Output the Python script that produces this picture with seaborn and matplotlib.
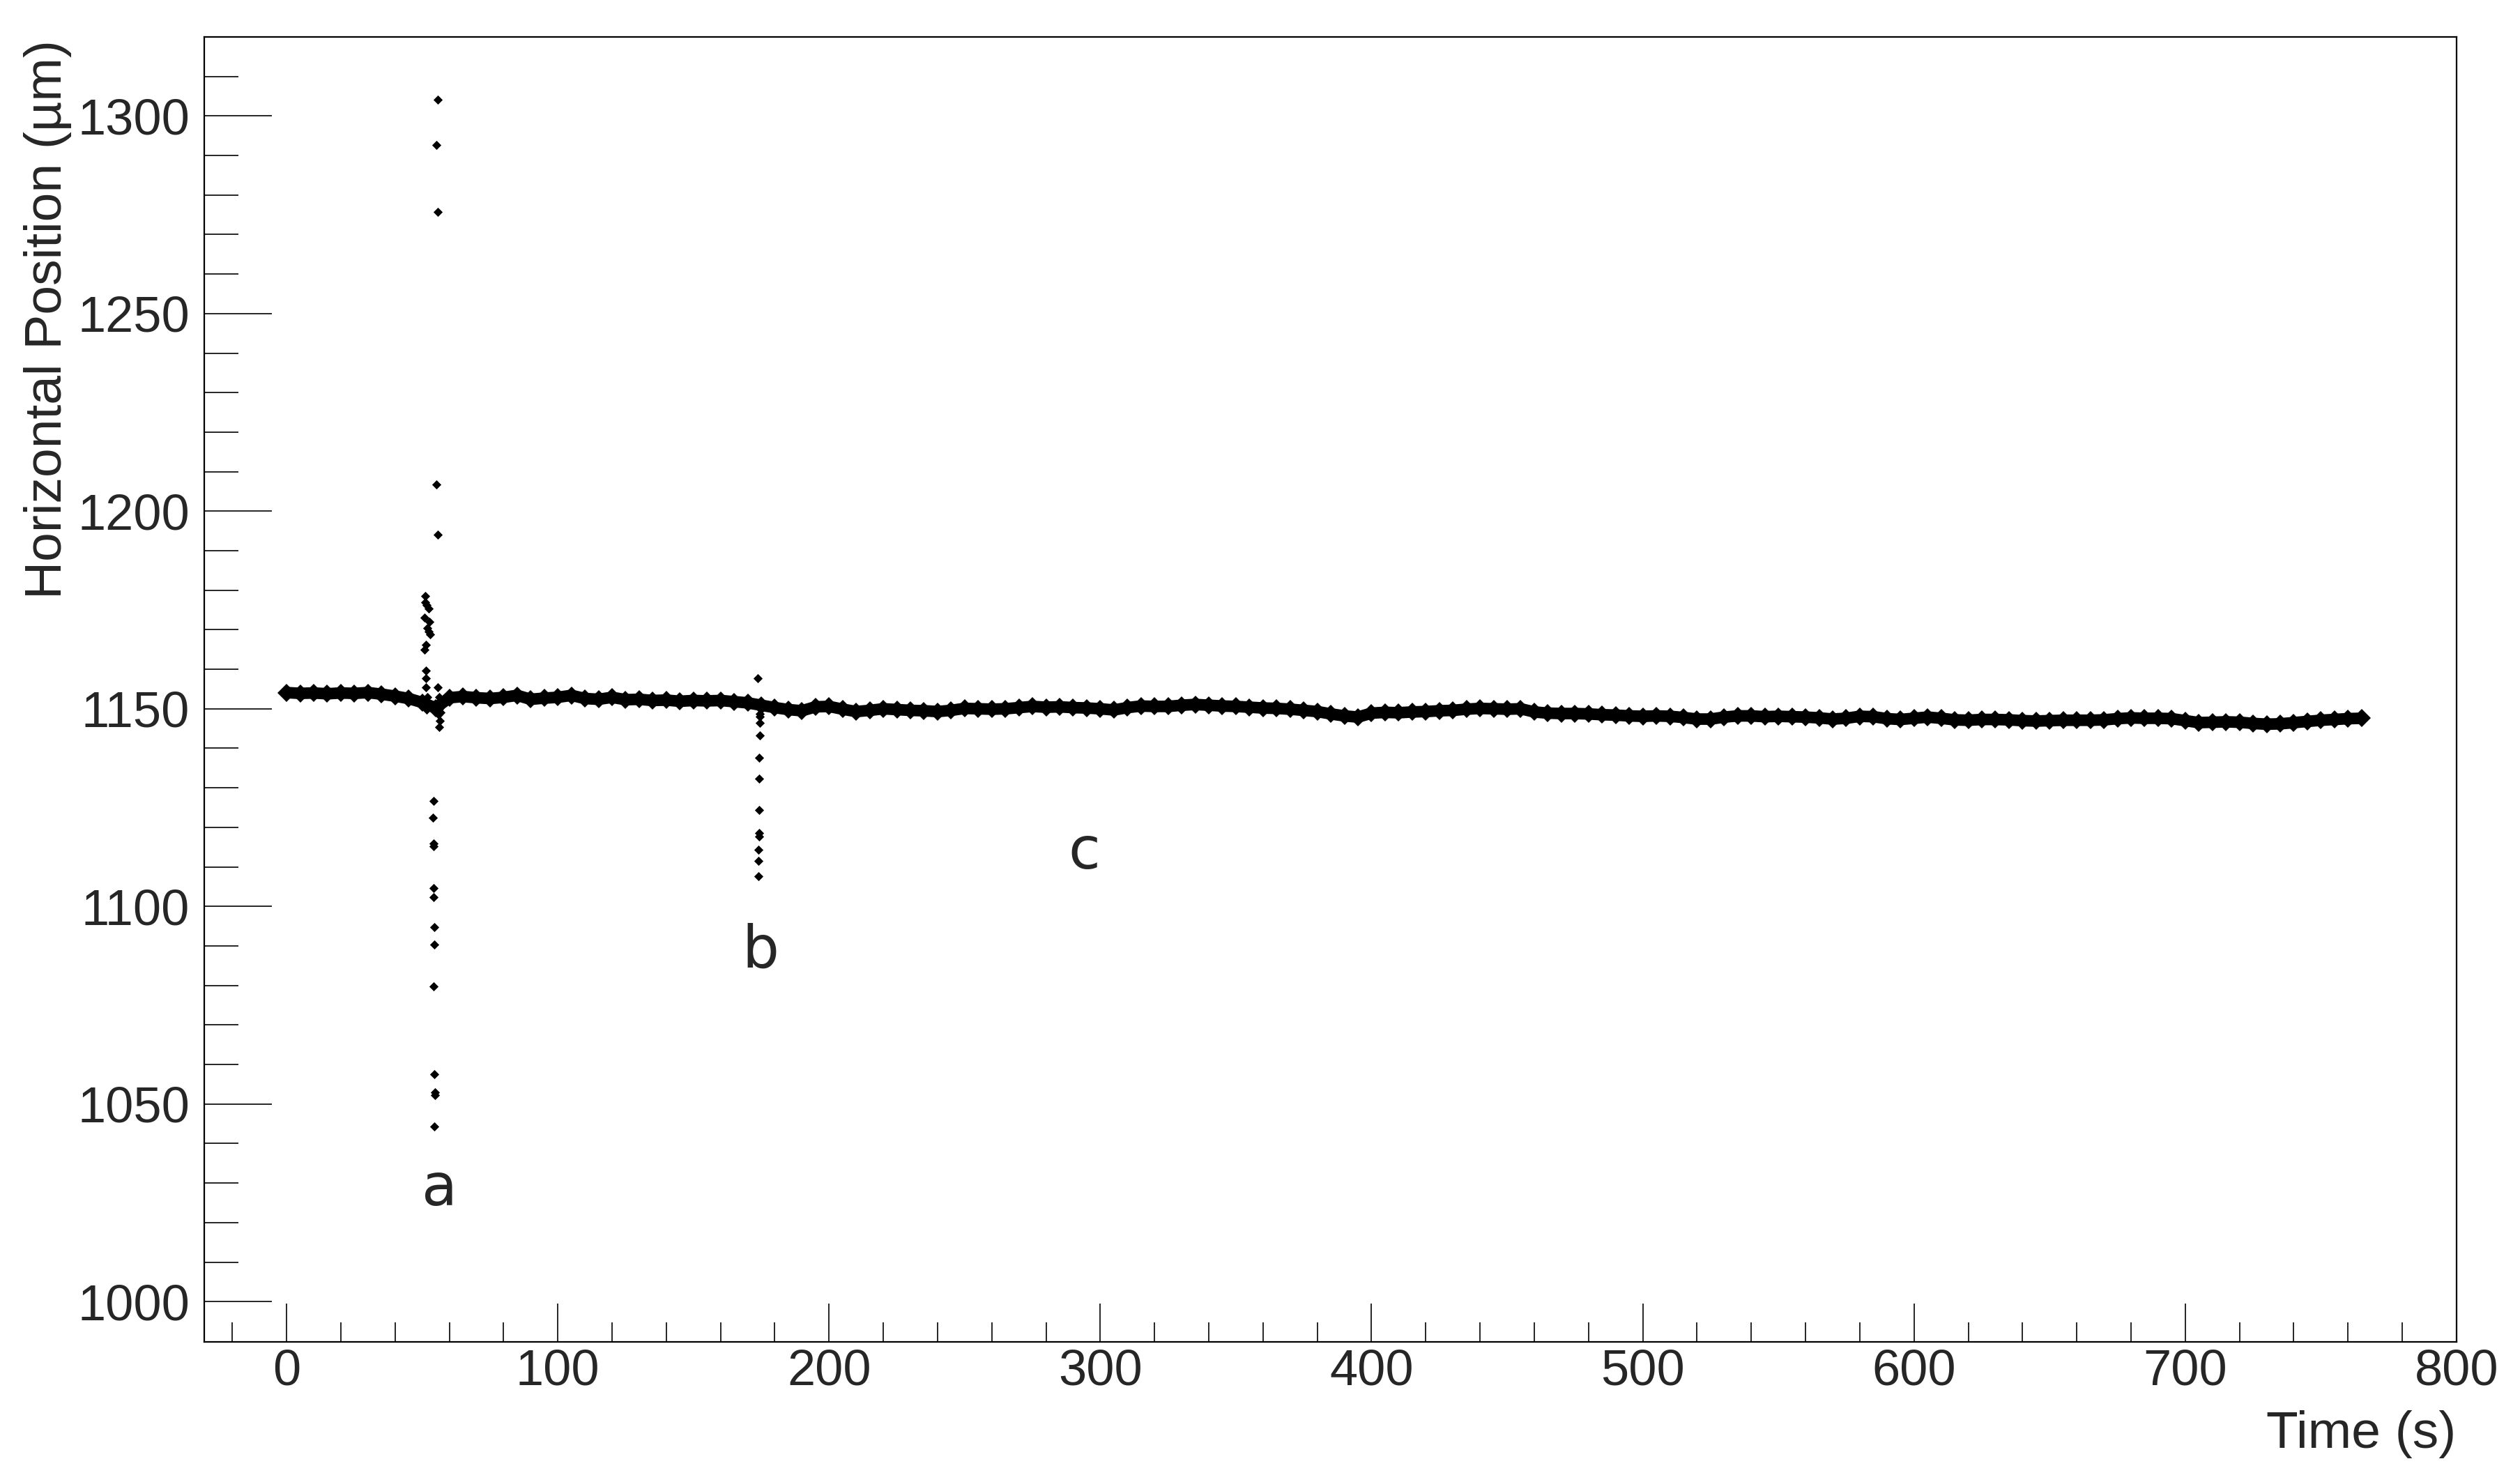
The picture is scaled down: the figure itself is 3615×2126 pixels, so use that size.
import numpy as np
import pandas as pd
import seaborn as sns
import matplotlib.pyplot as plt
from matplotlib.ticker import MultipleLocator, FixedLocator

# slow drift of the beam position, read every 5 s off the trace
trace_time = list(range(0, 770, 5))
trace_pos = [
    1154.1, 1153.9, 1154.0, 1153.8, 1154.0, 1153.9, 1154.1, 1153.7, 1153.2, 1152.6,
    1151.6, 1150.2, 1152.8, 1153.1, 1152.8, 1152.6, 1152.9, 1153.4, 1152.4, 1152.7,
    1152.9, 1153.4, 1152.6, 1152.4, 1152.9, 1152.3, 1152.4, 1152.1, 1152.2, 1151.9,
    1152.1, 1152.0, 1152.1, 1151.8, 1151.5, 1150.9, 1150.3, 1149.8, 1149.5, 1150.5,
    1150.6, 1149.9, 1149.3, 1149.6, 1150.0, 1149.8, 1149.6, 1149.5, 1149.3, 1149.6,
    1150.1, 1150.0, 1149.9, 1150.0, 1150.3, 1150.6, 1150.4, 1150.5, 1150.3, 1150.2,
    1150.0, 1149.7, 1150.3, 1150.7, 1150.6, 1150.6, 1150.9, 1151.1, 1150.9, 1150.7,
    1150.6, 1150.4, 1150.2, 1150.1, 1149.9, 1149.6, 1149.3, 1148.7, 1148.2, 1147.9,
    1148.9, 1149.1, 1149.0, 1149.2, 1149.3, 1149.5, 1149.6, 1149.9, 1150.1, 1150.0,
    1149.9, 1150.0, 1149.2, 1148.9, 1148.8, 1148.8, 1148.7, 1148.5, 1148.4, 1148.2,
    1148.1, 1148.2, 1148.1, 1147.8, 1147.4, 1147.4, 1147.9, 1148.2, 1148.2, 1148.0,
    1148.1, 1148.0, 1147.9, 1147.7, 1147.4, 1147.6, 1148.1, 1148.0, 1147.5, 1147.3,
    1147.6, 1147.9, 1147.6, 1147.2, 1147.1, 1147.3, 1147.3, 1147.2, 1147.0, 1146.9,
    1147.0, 1147.1, 1147.1, 1147.1, 1147.2, 1147.5, 1147.7, 1147.6, 1147.6, 1147.5,
    1147.0, 1146.5, 1146.6, 1146.7, 1146.6, 1146.3, 1146.1, 1146.2, 1146.5, 1146.8,
    1147.1, 1147.3, 1147.5, 1147.6,
]

# event a (~55 s): scattered readings
spike_a_time = [55.8, 55.2, 55.8, 55.2, 55.8,
                51.2, 51.0, 52.3, 51.6, 50.8, 52.6, 52.0, 52.3, 52.8, 51.3, 50.9,
                51.5, 51.3, 51.4, 51.8, 51.6, 55.8,
                56.2, 56.0, 56.3, 56.1, 56.4, 56.2, 56.8, 57.3,
                54.2, 54.0, 54.2, 54.1, 54.2, 54.3, 54.4, 54.4, 54.2, 54.4, 54.6, 54.6, 54.5]
spike_a_pos = [1304.1, 1292.6, 1275.8, 1206.7, 1194.1,
               1178.5, 1177.0, 1175.4, 1176.2, 1173.1, 1172.0, 1170.5, 1169.5, 1168.8, 1166.2, 1165.0,
               1159.6, 1157.8, 1155.4, 1152.9, 1149.7, 1155.4,
               1153.0, 1151.5, 1150.0, 1148.5, 1147.0, 1145.3, 1149.0, 1151.5,
               1126.6, 1122.5, 1115.9, 1115.3, 1104.7, 1102.4, 1094.7, 1090.3, 1079.7, 1057.5, 1052.9, 1052.2, 1044.4]

# event b (~174 s)
spike_b_time = [173.6, 174.4, 174.4, 174.4, 174.6, 174.2, 174.3, 174.3, 174.3, 174.3, 174.0, 174.0, 174.0]
spike_b_pos = [1157.8, 1148.8, 1148.0, 1146.4, 1143.2, 1137.7, 1132.4, 1124.4, 1118.5, 1117.6, 1114.4, 1111.5, 1107.6]

labels = ['a', 'b', 'c']
label_time = [56.5, 174.8, 294.1]
label_pos = [1024.4, 1084.6, 1109.5]

spikes = pd.DataFrame({
    'time': spike_a_time + spike_b_time,
    'pos': spike_a_pos + spike_b_pos,
})

sns.set_style('white')
plt.rcParams['font.family'] = ['Liberation Sans', 'DejaVu Sans']

fig = plt.figure(figsize=(36.15, 21.26), dpi=100)
ax = fig.add_axes([0.0811, 0.0945, 0.8937, 0.8806])

sns.lineplot(x=trace_time, y=trace_pos, color='black', lw=12, marker='D', markersize=13,
             markeredgewidth=0, estimator=None, sort=False, ax=ax)
sns.scatterplot(data=spikes, x='time', y='pos', color='black', marker='D', s=45,
                linewidth=0, ax=ax)

for lab, t, p in zip(labels, label_time, label_pos):
    ax.text(t, p, lab, ha='center', va='baseline', fontsize=60, family='DejaVu Sans')

ax.set_xlim(-30.3, 800)
ax.set_ylim(989.8, 1320)
ax.xaxis.set_major_locator(MultipleLocator(100))
ax.xaxis.set_minor_locator(MultipleLocator(20))
ax.yaxis.set_major_locator(MultipleLocator(50))
ax.yaxis.set_minor_locator(FixedLocator(np.arange(1000, 1315, 10)))

ax.tick_params(axis='x', which='major', direction='in', length=39.6, width=1.4,
               bottom=True, top=False, pad=7, labelsize=52)
ax.tick_params(axis='x', which='minor', direction='in', length=20, width=1.4,
               bottom=True, top=False)
ax.tick_params(axis='y', which='major', direction='in', length=70, width=1.4,
               left=True, right=False, pad=15, labelsize=52)
ax.tick_params(axis='y', which='minor', direction='in', length=35, width=1.4,
               left=True, right=False)

for sp in ax.spines.values():
    sp.set_color('black')
    sp.set_linewidth(1.6)

ax.set_xlabel('')
ax.set_ylabel('')
fig.text(103.5 / 3615, 1 - 57 / 2126, 'Horizontal Position (\u00b5m)', rotation=90,
         rotation_mode='anchor', ha='right', va='bottom', fontsize=54)
fig.text(3523 / 3615, 1 - 2077 / 2126, 'Time (s)', ha='right', va='baseline', fontsize=54)

fig.savefig('out.png', dpi=100)
